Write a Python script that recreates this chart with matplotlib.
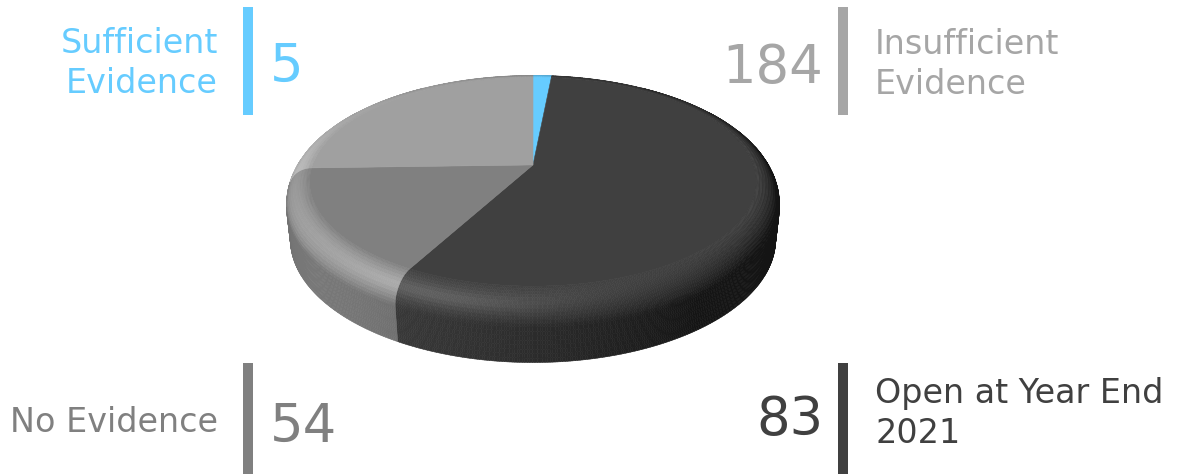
"""Status of recommendations: shaded 3D pie with bar-separated callouts."""
import numpy as np
import matplotlib
matplotlib.use("Agg")
import matplotlib.pyplot as plt
from matplotlib.collections import PolyCollection
from matplotlib.colors import to_rgb
from matplotlib.patches import Rectangle

LABELS = ["Sufficient\nEvidence", "Insufficient\nEvidence", "No Evidence",
          "Open at Year End\n2021"]
VALUES = [5, 184, 54, 83]
SLICE_COLORS = ["#66ccff", "#404040", "#808080", "#a0a0a0"]
LABEL_COLORS = ["#66ccff", "#a6a6a6", "#808080", "#404040"]

W, H = 1181, 474

# camera and solid
ELEV = np.radians(30)
DIST = 5.0
FOCAL = 1195.0
CX, CY = 533.0, 218.0
THICK = 0.25
BEVEL = 0.1
LIGHT = np.array([-0.55, -0.4, 0.75])
LIGHT = LIGHT / np.linalg.norm(LIGHT)
AMB, DIFF = 0.25, 0.75
SPEC, GLOSS = 0.08, 20
CAM = np.array([0.0, -DIST * np.cos(ELEV), DIST * np.sin(ELEV)])


def project(p):
    p = np.asarray(p, dtype=float)
    x, y, z = p[..., 0], p[..., 1], p[..., 2]
    depth = DIST + y * np.cos(ELEV) - z * np.sin(ELEV)
    up = y * np.sin(ELEV) + z * np.cos(ELEV)
    return np.stack([CX + FOCAL * x / depth, CY - FOCAL * up / depth], axis=-1)


def shade(base, normal, point):
    lit = AMB + DIFF * max(0.0, float(normal @ LIGHT))
    ref = AMB + DIFF * LIGHT[2]
    view = CAM - point
    half = LIGHT + view / np.linalg.norm(view)
    half = half / np.linalg.norm(half)
    glint = SPEC * max(0.0, float(normal @ half)) ** GLOSS
    return tuple(np.clip(np.array(to_rgb(base)) * lit / ref + glint, 0, 1))


# rim profile: rounded top edge then vertical wall
phi = np.linspace(0, np.pi / 2, 13)
prof_r = np.concatenate([1 - BEVEL + BEVEL * np.sin(phi), np.ones(8)])
prof_z = np.concatenate([THICK - BEVEL + BEVEL * np.cos(phi),
                         np.linspace(THICK - BEVEL, 0, 9)[1:]])

fig = plt.figure(figsize=(W / 100, H / 100), dpi=100)
ax = fig.add_axes([0, 0, 1, 1])
ax.set_xlim(0, W)
ax.set_ylim(H, 0)
ax.axis("off")

total = sum(VALUES)
bounds = np.radians(90 - 360 * np.concatenate([[0], np.cumsum(VALUES)]) / total)

polys, colors = [], []
for k, base in enumerate(SLICE_COLORS):
    a_start, a_end = bounds[k + 1], bounds[k]
    n = max(3, int(np.degrees(a_end - a_start) * 2))
    ts = np.linspace(a_start, a_end, n)

    # flat top of the wedge
    rin = 1 - BEVEL
    top = [[0, 0, THICK]] + [[rin * np.cos(t), rin * np.sin(t), THICK] for t in ts]
    polys.append(project(top))
    colors.append(to_rgb(base))

    # rounded rim and wall
    for j in range(len(prof_r) - 1):
        dr, dz = prof_r[j + 1] - prof_r[j], prof_z[j + 1] - prof_z[j]
        nr, nz = -dz, dr
        ln = np.hypot(nr, nz)
        nr, nz = nr / ln, nz / ln
        for i in range(len(ts) - 1):
            t0, t1 = ts[i], ts[i + 1]
            quad = np.array([
                [prof_r[j] * np.cos(t0), prof_r[j] * np.sin(t0), prof_z[j]],
                [prof_r[j] * np.cos(t1), prof_r[j] * np.sin(t1), prof_z[j]],
                [prof_r[j + 1] * np.cos(t1), prof_r[j + 1] * np.sin(t1), prof_z[j + 1]],
                [prof_r[j + 1] * np.cos(t0), prof_r[j + 1] * np.sin(t0), prof_z[j + 1]],
            ])
            tm = 0.5 * (t0 + t1)
            normal = np.array([nr * np.cos(tm), nr * np.sin(tm), nz])
            centre = quad.mean(axis=0)
            if normal @ (CAM - centre) <= 0:
                continue
            polys.append(project(quad))
            colors.append(shade(base, normal, centre))

ax.add_collection(PolyCollection(polys, facecolors=colors, edgecolors=colors,
                                 linewidths=0.4, zorder=1))

# callouts: name | bar | number
NAME_SIZE, NUM_SIZE = 24, 38
LINE_GAP = 40
callouts = [
    # (side, bar top, bar bottom, first name baseline, number baseline)
    ("left", 7, 115, 53, 82),
    ("right", 7, 115, 54, 83),
    ("left", 363, 480, 432, 442),
    ("right", 363, 480, 403, 435),
]
for label, value, color, (side, b0, b1, name_y, num_y) in zip(
        LABELS, VALUES, LABEL_COLORS, callouts):
    if side == "left":
        bar_x, name_x, name_ha, num_x, num_ha = 243, 218, "right", 270, "left"
    else:
        bar_x, name_x, name_ha, num_x, num_ha = 838, 875, "left", 823, "right"
    ax.add_patch(Rectangle((bar_x, b0), 10, b1 - b0, color=color, lw=0, zorder=2))
    for i, line in enumerate(label.split("\n")):
        ax.text(name_x, name_y + i * LINE_GAP, line, ha=name_ha, va="baseline",
                fontsize=NAME_SIZE, color=color, zorder=3)
    ax.text(num_x, num_y, f"{value}", ha=num_ha, va="baseline",
            fontsize=NUM_SIZE, color=color, zorder=3)

fig.savefig("out.png", dpi=100, facecolor="white")
